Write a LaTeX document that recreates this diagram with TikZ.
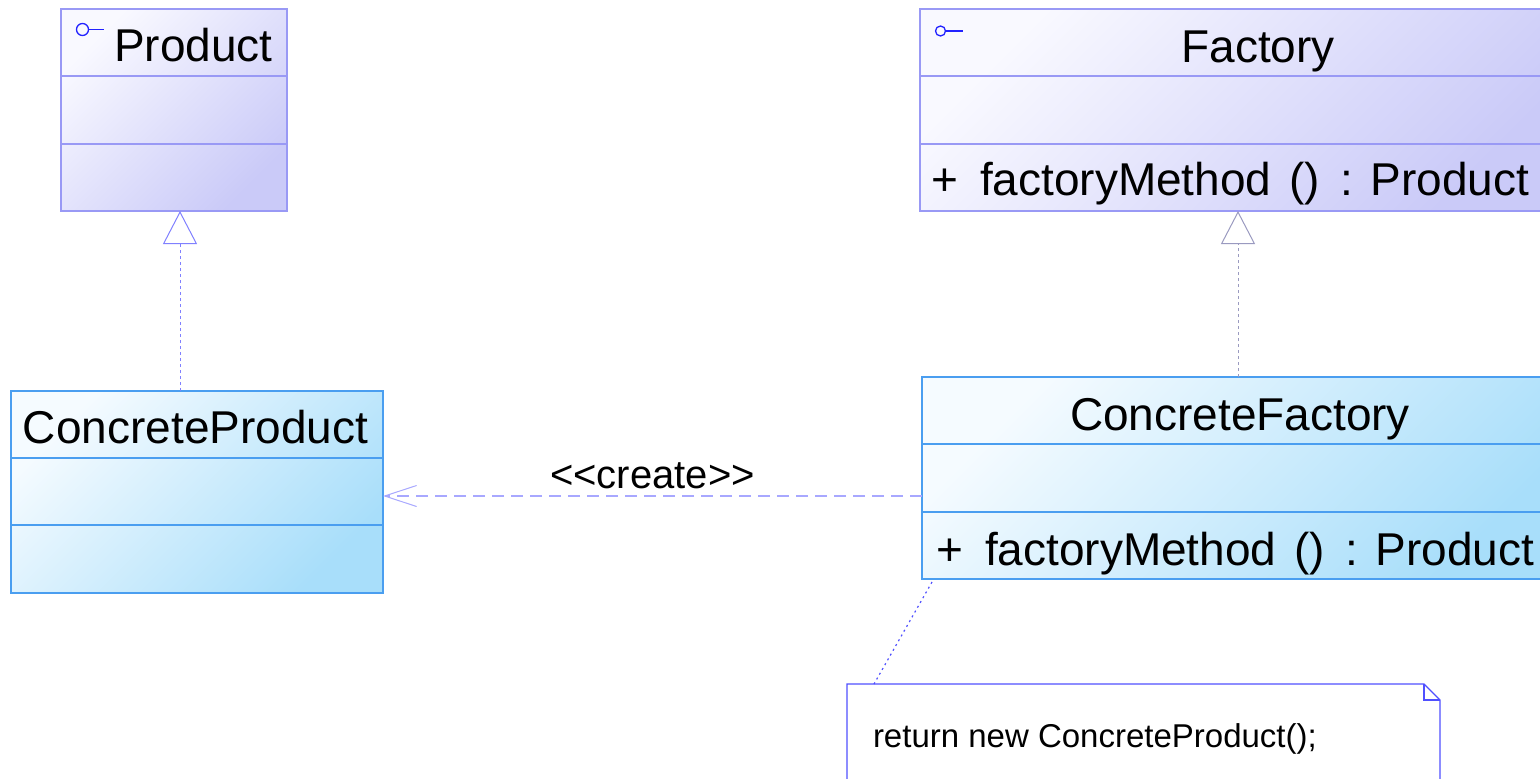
\documentclass[tikz,border=0pt]{standalone}
\usepackage{fontspec}
\newfontfamily\arial{Liberation Sans}
\usetikzlibrary{arrows.meta}
\definecolor{pborder}{HTML}{9999F5}
\definecolor{plight}{HTML}{F9F9FF}
\definecolor{pdark}{HTML}{CACAF8}
\definecolor{cborder}{HTML}{4A9EF0}
\definecolor{clight}{HTML}{F5FBFF}
\definecolor{cdark}{HTML}{A8DEFA}
\definecolor{linkc}{HTML}{8080FF}
\definecolor{linkg}{HTML}{9A9AC0}
\definecolor{createc}{HTML}{A8A8FF}
\definecolor{notec}{HTML}{5050FF}
\definecolor{iconc}{HTML}{2222FF}
\tikzset{
  pbox/.style={draw=pborder, line width=1.2pt, top color=plight, bottom color=pdark, shading angle=45},
  cbox/.style={draw=cborder, line width=1.2pt, top color=clight, bottom color=cdark, shading angle=45},
  pdiv/.style={draw=pborder, line width=1.2pt},
  cdiv/.style={draw=cborder, line width=1.2pt},
  titletext/.style={font=\arial\fontsize{46}{50}\selectfont},
  createtext/.style={font=\arial\fontsize{40}{44}\selectfont},
  notetext/.style={font=\arial\fontsize{33}{38}\selectfont},
  realize/.style={draw=linkc, line width=1pt, dash pattern=on 3pt off 3pt,
    -{Triangle[open, length=33pt, width=34pt, line width=1pt]}},
  realizeg/.style={realize, draw=linkg},
  createarrow/.style={draw=createc, line width=1.2pt, dash pattern=on 12pt off 7pt,
    -{Straight Barb[length=32pt, width=21pt, line width=1pt]}},
  notebox/.style={draw=notec, line width=1.2pt},
  notelink/.style={draw=notec, line width=1.2pt, dash pattern=on 2pt off 3.5pt},
  icon/.style={draw=iconc, line width=1.3pt}
}
\begin{document}
\begin{tikzpicture}[x=1pt, y=-1pt, every node/.style={inner sep=0pt, outer sep=0pt}]
\useasboundingbox (0,0) rectangle (1540,779);

% class boxes
\node[pbox, minimum width=226pt, minimum height=202pt] (prod) at (174,110) {};
\node[pbox, minimum width=640pt, minimum height=202pt] (fac) at (1240,110) {};
\node[cbox, minimum width=372pt, minimum height=202pt] (cp) at (197,492) {};
\node[cbox, minimum width=640pt, minimum height=202pt] (cf) at (1242,478) {};

% dividers
\draw[pdiv] ([yshift=-67pt]prod.north west) -- ([yshift=-67pt]prod.north east);
\draw[pdiv] ([yshift=-135pt]prod.north west) -- ([yshift=-135pt]prod.north east);
\draw[pdiv] ([yshift=-67pt]fac.north west) -- ([yshift=-67pt]fac.north east);
\draw[pdiv] ([yshift=-135pt]fac.north west) -- ([yshift=-135pt]fac.north east);
\draw[cdiv] ([yshift=-67pt]cp.north west) -- ([yshift=-67pt]cp.north east);
\draw[cdiv] ([yshift=-134pt]cp.north west) -- ([yshift=-134pt]cp.north east);
\draw[cdiv] ([yshift=-67pt]cf.north west) -- ([yshift=-67pt]cf.north east);
\draw[cdiv] ([yshift=-135pt]cf.north west) -- ([yshift=-135pt]cf.north east);

% interface icons
\draw[icon] (82.5,29.5) circle[radius=6pt];
\draw[icon] (88.5,29.5) -- (104,29.5);
\draw[icon] (940.5,31) circle[radius=5pt];
\draw[icon] (945.5,31) -- (963,31);

% titles
\node[titletext, anchor=base west] (ptitle) at (114,61) {Product};
\node[titletext, anchor=base] (ftitle) at (1258,62) {Factory};
\node[titletext, anchor=base west] (cptitle) at (23,443) {ConcreteProduct};
\node[titletext, anchor=base] (cftitle) at (1240,430) {ConcreteFactory};

% operations
\node[titletext, anchor=base west] (fplus) at (931,195) {+};
\node[titletext, anchor=base west] (fmeth) at (980,195) {factoryMethod};
\node[titletext, anchor=base west] (fpar) at (1289,195) {()};
\node[titletext, anchor=base west] (fcol) at (1340,195) {:};
\node[titletext, anchor=base east] (fret) at (1529,195) {Product};
\node[titletext, anchor=base west] (cfplus) at (936,565) {+};
\node[titletext, anchor=base west] (cfmeth) at (985,565) {factoryMethod};
\node[titletext, anchor=base west] (cfpar) at (1294,565) {()};
\node[titletext, anchor=base west] (cfcol) at (1345,565) {:};
\node[titletext, anchor=base east] (cfret) at (1534,565) {Product};

% realizations
\coordinate (pa) at ([xshift=6pt]prod.south);
\draw[realize] (pa |- cp.north) -- (pa);
\coordinate (fa) at ([xshift=-2pt]fac.south);
\draw[realizeg] (fa |- cf.north) -- (fa);

% create dependency
\coordinate (cr) at ([yshift=-18pt]cf.west);
\draw[createarrow] (cr) -- (cr -| cp.east)
  node[createtext, midway, anchor=base, yshift=8pt] (crlabel) {<\kern0pt<create>\kern0pt>};

% note
\node[minimum width=593pt, minimum height=124pt] (note) at (1143.5,746) {};
\draw[notebox, fill=white] (note.south west) -- (note.north west) -- ([xshift=-16pt]note.north east)
  -- ([yshift=-16pt]note.north east) -- (note.south east);
\draw[notebox] ([xshift=-16pt]note.north east) |- ([yshift=-16pt]note.north east);
\node[notetext, anchor=base west] (ntext) at (873,747) {return new ConcreteProduct();};
\draw[notelink] ([xshift=10pt,yshift=-3pt]cf.south west) -- ([xshift=27pt]note.north west);
\end{tikzpicture}
\end{document}
